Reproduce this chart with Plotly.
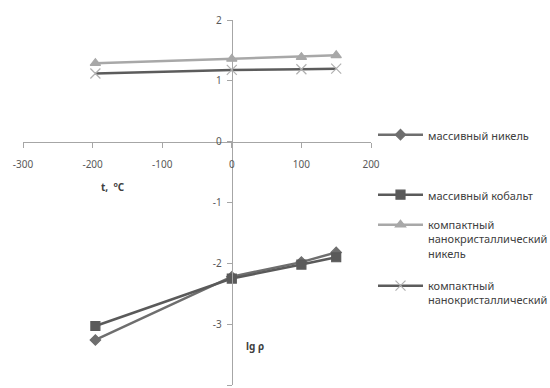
import plotly.graph_objects as go

t = [-196, 0, 100, 150]
massive_ni = [-3.26, -2.22, -1.98, -1.82]
massive_co = [-3.03, -2.25, -2.02, -1.90]
nano_ni = [1.29, 1.36, 1.39, 1.42]
nano_co = [1.12, 1.18, 1.19, 1.20]

x_ticks = [-300, -200, -100, 0, 100, 200]
x_ticktext = ["-300", "-200", "-100", "0", "100", "200"]
y_ticks = [-4, -3, -2, -1, 0, 1, 2]
y_ticktext = ["-4", "-3", "-2", "-1", "0", "1", "2"]

names = ["массивный никель", "массивный кобальт",
         "компактный<br>нанокристаллический<br>никель",
         "компактный<br>нанокристаллический"]
series = [massive_ni, massive_co, nano_ni, nano_co]
colors = ["#6e6e6e", "#5a5a5a", "#a8a8a8", "#5c5c5c"]
mcolors = ["#6e6e6e", "#5a5a5a", "#a8a8a8", "#b0b0b0"]
symbols = ["diamond", "square", "triangle-up", "x-thin-open"]
msizes = [8, 9, 9, 10]
legend_ids = ["legend", "legend2", "legend3", "legend4"]
legend_top_px = [121, 181, 211, 272]

W, H = 550, 388
ml, mr, mt, mb = 23, 179, 20, 3
ph = H - mt - mb
pw = W - ml - mr

fig = go.Figure()
for i in range(4):
    fig.add_trace(go.Scatter(
        x=t, y=series[i], name=names[i], mode="lines+markers",
        line=dict(color=colors[i], width=2.5),
        marker=dict(symbol=symbols[i], size=msizes[i], color=mcolors[i],
                    line=dict(color=mcolors[i], width=1.2)),
        legend=legend_ids[i], showlegend=True,
    ))

font = "Noto Sans"
layout = dict(
    width=W, height=H, showlegend=True,
    margin=dict(l=ml, r=mr, t=mt, b=mb, autoexpand=False),
    paper_bgcolor="white", plot_bgcolor="white",
    font=dict(family=font, size=10, color="#595959"),
    xaxis=dict(range=[-300, 200], tickvals=x_ticks, ticktext=x_ticktext,
               showgrid=False, zeroline=False,
               showline=True, linecolor="#a6a6a6", linewidth=1,
               ticks="outside", ticklen=5, tickcolor="#a6a6a6", ticklabelstandoff=8,
               anchor="free", position=4/6, tickfont=dict(size=10, color="#595959")),
    yaxis=dict(range=[-4, 2], tickvals=y_ticks, ticktext=y_ticktext,
               showgrid=False, zeroline=False,
               showline=True, linecolor="#a6a6a6", linewidth=1,
               ticks="outside", ticklen=5, tickcolor="#a6a6a6", ticklabelstandoff=3,
               anchor="free", position=3/5, tickfont=dict(size=10, color="#595959")),
    annotations=[
        dict(x=-171, y=-0.74, xref="x", yref="y", text="<b>t,  <sup>o</sup>C</b>",
             showarrow=False, font=dict(size=10, color="#404040")),
        dict(x=33, y=-3.36, xref="x", yref="y", text="<b>lg ρ</b>",
             showarrow=False, font=dict(size=10, color="#404040")),
    ],
)
for i, lid in enumerate(legend_ids):
    layout[lid] = dict(
        x=(373 - ml) / pw, xanchor="left",
        y=(H - mb - legend_top_px[i]) / ph, yanchor="top",
        bgcolor="rgba(0,0,0,0)", valign="top", itemwidth=45,
        font=dict(family=font, size=11, color="#404040"),
        tracegroupgap=0, visible=True,
    )
fig.update_layout(**layout)
fig.write_html("out.html")
